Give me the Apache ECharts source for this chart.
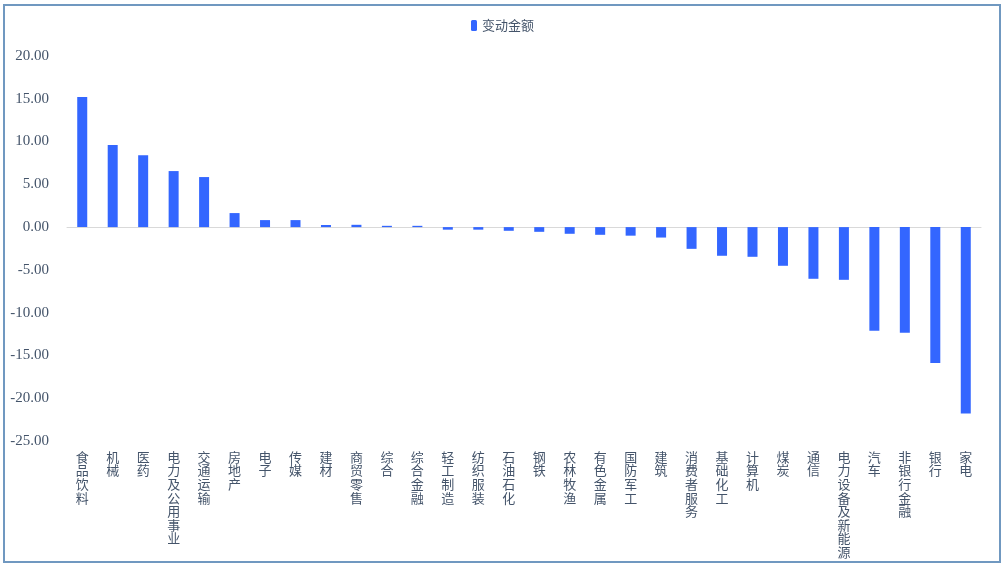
<!DOCTYPE html>
<html>
<head>
<meta charset="utf-8">
<script src="https://cdn.jsdelivr.net/npm/echarts@6/dist/echarts.min.js"></script>
<style>
  html, body { margin: 0; padding: 0; background: #fff; }
  #chart { position: absolute; left: 0; top: 0; width: 1005px; height: 567px; }
  #frame { position: absolute; left: 3px; top: 4px; width: 998px; height: 559px;
           border: 2px solid #7098c0; box-sizing: border-box; pointer-events: none; }
</style>
</head>
<body>
<div id="chart"></div>
<div id="frame"></div>
<script>
// 行业
var categories = ['食品饮料', '机械', '医药', '电力及公用事业', '交通运输', '房地产', '电子', '传媒', '建材',
    '商贸零售', '综合', '综合金融', '轻工制造', '纺织服装', '石油石化', '钢铁', '农林牧渔', '有色金属',
    '国防军工', '建筑', '消费者服务', '基础化工', '计算机', '煤炭', '通信', '电力设备及新能源', '汽车',
    '非银行金融', '银行', '家电'];

// 变动金额
var changeValues = [15.2, 9.6, 8.4, 6.55, 5.85, 1.64, 0.82, 0.82, 0.25,
    0.27, 0.15, 0.15, -0.3, -0.3, -0.43, -0.55, -0.78, -0.9,
    -1.0, -1.22, -2.54, -3.35, -3.47, -4.52, -6.04, -6.16, -12.1,
    -12.36, -15.87, -21.8];

var seriesName = '变动金额';

var textColor = '#44546a';
var fontFam = '"Liberation Serif", "Noto Sans CJK SC", serif';

var myChart = echarts.init(document.getElementById('chart'));
var option = {
    animation: false,
    legend: {
        data: [seriesName],
        top: 14,
        left: 'center',
        itemWidth: 6,
        itemHeight: 11,
        itemGap: 5,
        textStyle: { color: textColor, fontSize: 13, fontFamily: '"Noto Sans CJK SC", sans-serif' }
    },
    grid: { left: 67, right: 24, top: 56, bottom: 126 },
    xAxis: [
        {
            type: 'category',
            data: categories,
            axisLine: { onZero: true, lineStyle: { color: '#d9d9d9', width: 1 } },
            axisTick: { show: false },
            axisLabel: { show: false }
        },
        {
            type: 'category',
            data: categories,
            position: 'bottom',
            axisLine: { show: false, onZero: false },
            axisTick: { show: false },
            axisLabel: {
                margin: 9,
                interval: 0,
                color: textColor,
                fontSize: 13,
                lineHeight: 13.6,
                fontFamily: '"Noto Sans CJK SC", sans-serif',
                verticalAlign: 'top',
                formatter: function (v) { return v.split('').join('\n'); }
            }
        }
    ],
    yAxis: {
        type: 'value',
        min: -25,
        max: 20,
        interval: 5,
        splitLine: { show: false },
        axisLine: { show: false },
        axisTick: { show: false },
        axisLabel: {
            margin: 18,
            color: textColor,
            fontSize: 15,
            fontFamily: fontFam,
            formatter: function (v) { return v.toFixed(2); }
        }
    },
    series: [
        {
            name: seriesName,
            type: 'bar',
            xAxisIndex: 0,
            data: changeValues,
            barWidth: 10,
            itemStyle: { color: '#3366ff' }
        }
    ]
};
myChart.setOption(option);
</script>
</body>
</html>
